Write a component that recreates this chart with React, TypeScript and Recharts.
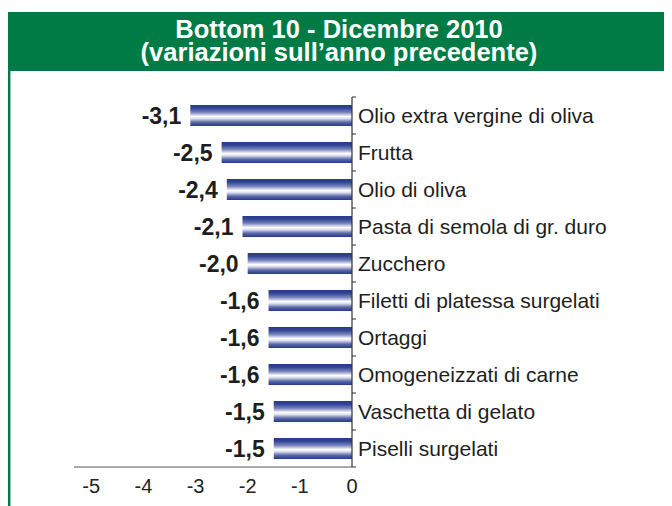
import React from "react";
import { BarChart, Bar, XAxis, YAxis, LabelList } from "recharts";

const categories: string[] = [
  "Olio extra vergine di oliva",
  "Frutta",
  "Olio di oliva",
  "Pasta di semola di gr. duro",
  "Zucchero",
  "Filetti di platessa surgelati",
  "Ortaggi",
  "Omogeneizzati di carne",
  "Vaschetta di gelato",
  "Piselli surgelati",
];
const values: number[] = [-3.1, -2.5, -2.4, -2.1, -2.0, -1.6, -1.6, -1.6, -1.5, -1.5];
const xTicks: number[] = [-5, -4, -3, -2, -1, 0];
const titleLines: string[] = ["Bottom 10 - Dicembre 2010", "(variazioni sull\u2019anno precedente)"];

const data = categories.map((name, i) => ({ name, value: values[i] }));

const FONT = '"Liberation Sans", Arial, Helvetica, sans-serif';
const GREEN = "#007b45";

const fmt = (v: any) => Number(v).toFixed(1).replace(".", ",");

const CategoryTick = (props: any) => {
  const { x, y, payload, index } = props;
  const half = payload && payload.offset ? payload.offset : 18.5;
  return (
    <g>
      <line x1={x} y1={y - half} x2={x + 4} y2={y - half} stroke="#333" strokeWidth={1} />
      {index === categories.length - 1 ? (
        <line x1={x} y1={y + half} x2={x + 4} y2={y + half} stroke="#333" strokeWidth={1} />
      ) : null}
      <text x={x + 6} y={y} dy="0.36em" textAnchor="start" fontSize={21} fill="#1e1e1e" fontFamily={FONT}>
        {payload.value}
      </text>
    </g>
  );
};

const ValueLabel = (props: any) => {
  const { x, y, width, height, value } = props;
  const left = Math.min(Number(x), Number(x) + Number(width));
  const cy = Number(y) + Number(height) / 2;
  return (
    <text
      x={left - 9}
      y={cy}
      dy="0.36em"
      textAnchor="end"
      fontSize={23}
      fontWeight="bold"
      fill="#1e1e1e"
      fontFamily={FONT}
    >
      {fmt(value)}
    </text>
  );
};

export default function App() {
  return (
    <div style={{ position: "relative", width: 672, height: 506, marginTop: -8, marginLeft: -8, background: "#fff", overflow: "hidden" }}>
      <div style={{ position: "absolute", left: 0, top: 0 }}>
        <BarChart
          width={672}
          height={506}
          data={data}
          layout="vertical"
          margin={{ top: 97, right: 0, bottom: 9, left: 74 }}
        >
          <defs>
            <linearGradient id="barGrad" x1="0" y1="0" x2="0" y2="1">
              <stop offset="0%" stopColor="#283b8b" />
              <stop offset="15%" stopColor="#2f4493" />
              <stop offset="35%" stopColor="#7883bb" />
              <stop offset="55%" stopColor="#ffffff" />
              <stop offset="65%" stopColor="#d9dcee" />
              <stop offset="82%" stopColor="#5b68a8" />
              <stop offset="100%" stopColor="#263a8a" />
            </linearGradient>
          </defs>
          <XAxis
            type="number"
            domain={[-5.33, 0]}
            ticks={xTicks}
            allowDataOverflow
            height={30}
            tickLine={false}
            tickSize={0}
            tickMargin={12}
            axisLine={{ stroke: "#555", strokeWidth: 1.2 }}
            tick={{ fontSize: 20, fill: "#222", fontFamily: FONT }}
            tickFormatter={(v: any) => String(v)}
            interval={0}
          />
          <YAxis
            type="category"
            dataKey="name"
            orientation="right"
            width={320}
            tickLine={false}
            tickSize={0}
            tickMargin={0}
            interval={0}
            axisLine={{ stroke: "#333", strokeWidth: 1.2 }}
            tick={<CategoryTick />}
          />
          <Bar dataKey="value" fill="url(#barGrad)" barSize={21} isAnimationActive={false}>
            <LabelList dataKey="value" content={<ValueLabel />} />
          </Bar>
        </BarChart>
      </div>
      <svg width={672} height={506} style={{ position: "absolute", left: 0, top: 0, pointerEvents: "none" }}>
        <rect x={7} y={12} width={665} height={59} fill={GREEN} />
        <rect x={7} y={71} width={1} height={435} fill="#9cc9b0" />
        <rect x={8} y={71} width={2.4} height={435} fill={GREEN} />
        {titleLines.map((t, i) => (
          <text
            key={i}
            x={339}
            y={38 + i * 22.5}
            textAnchor="middle"
            fontSize={25.5}
            fontWeight="bold"
            fill="#fff"
            fontFamily={FONT}
          >
            {t}
          </text>
        ))}
      </svg>
    </div>
  );
}
